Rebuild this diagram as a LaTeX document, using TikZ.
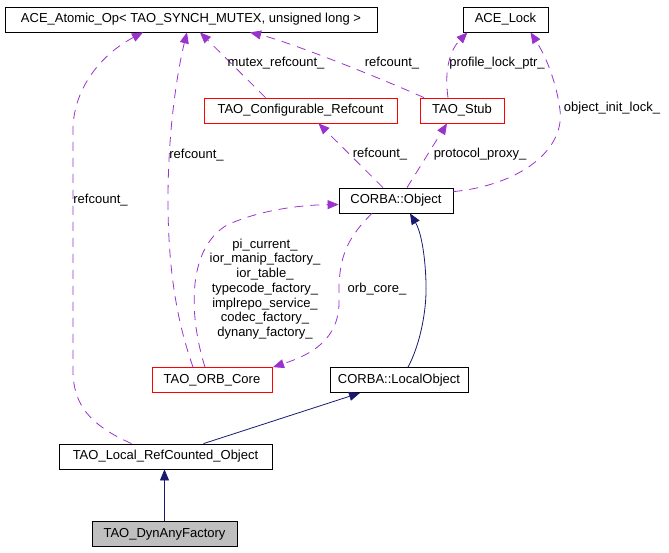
\documentclass[tikz,border=0pt]{standalone}
\usepackage{fontspec}
\setmainfont{Liberation Sans}
\usepackage{tikz}
\usetikzlibrary{arrows.meta}

\definecolor{usepurple}{HTML}{9A32CD}
\definecolor{basenavy}{HTML}{191970}
\definecolor{boxgray}{HTML}{BFBFBF}

\begin{document}
\begin{tikzpicture}[x=1pt, y=-1pt,
    font=\fontsize{13}{14.7}\selectfont,
    classbox/.style={draw=black, line width=0.8pt, inner xsep=5pt, inner ysep=0pt, minimum height=25pt},
    redbox/.style={classbox, draw=red},
    usage/.style={draw=usepurple, line width=0.8pt, dash pattern=on 9pt off 7pt, -{Triangle[length=11pt,width=9pt]}},
    inherit/.style={draw=basenavy, line width=0.8pt, -{Triangle[length=11pt,width=9pt]}},
    lbl/.style={inner sep=0pt, align=center}]

    \useasboundingbox (0,0) rectangle (669,552);

    % the classes
    \node[classbox, minimum width=372pt] (atomic) at (191,19.5) {ACE\_Atomic\_Op< TAO\_SYNCH\_MUTEX, unsigned long >};
    \node[classbox, minimum width=85pt] (lock) at (505.5,19.5) {ACE\_Lock};
    \node[redbox, minimum width=193pt] (confref) at (300.5,110.5) {TAO\_Configurable\_Refcount};
    \node[redbox, minimum width=84pt] (stub) at (462,110.5) {TAO\_Stub};
    \node[classbox, minimum width=114pt] (object) at (396,200.5) {CORBA::Object};
    \node[redbox, minimum width=120pt] (orbcore) at (212,380) {TAO\_ORB\_Core};
    \node[classbox, minimum width=138pt] (localobj) at (399,380) {CORBA::LocalObject};
    \node[classbox, minimum width=213pt] (localref) at (165.5,456.5) {TAO\_Local\_RefCounted\_Object};
    \node[classbox, minimum width=145pt, fill=boxgray] (dynany) at (164.5,534) {TAO\_DynAnyFactory};

    % usage edges
    \path[usage] ([xshift=-35pt]confref.north) -- ([xshift=9pt]atomic.south);
    \node[lbl] (lmutex) at (276,63) {mutex\_refcount\_};

    \path[usage] ([xshift=-38pt]stub.north) .. controls (380,78) and (290,42) .. ([xshift=59pt]atomic.south);
    \node[lbl] (lstubref) at (392,63) {refcount\_};

    \path[usage] ([xshift=-14pt]stub.north) .. controls (444,70) and (450,50) .. ([xshift=-38pt]lock.south);
    \node[lbl] (lprofile) at (497,63) {profile\_lock\_ptr\_};

    \path[usage] ([yshift=-4pt]object.north east) .. controls (520,185) and (565,150) .. (560,110)
        .. controls (556,80) and (545,55) .. ([xshift=25pt]lock.south);
    \node[lbl] (linitlock) at (612,108) {object\_init\_lock\_};

    \path[usage] ([xshift=-13pt]object.north) -- ([xshift=18pt]confref.south);
    \node[lbl] (lobjref) at (380,154) {refcount\_};

    \path[usage] ([xshift=11pt]object.north) -- ([xshift=-15pt]stub.south);
    \node[lbl] (lproxy) at (480,154) {protocol\_proxy\_};

    \path[usage] ([xshift=-7pt]orbcore.north) .. controls (190,320) and (185,250) .. (227,225)
        .. controls (260,210) and (300,205) .. ([yshift=-4pt]object.west);
    \node[lbl] (lorbmembers) at (265,289) {pi\_current\_\\ior\_manip\_factory\_\\ior\_table\_\\typecode\_factory\_\\implrepo\_service\_\\codec\_factory\_\\dynany\_factory\_};

    \path[usage] ([xshift=-24pt]object.south) .. controls (345,240) and (338,260) .. (339,300)
        .. controls (340,340) and (310,355) .. ([xshift=61pt]orbcore.north);
    \node[lbl] (lorbcore) at (377,289) {orb\_core\_};

    \path[usage] ([xshift=-19pt]orbcore.north) .. controls (180,330) and (168,280) .. (168,200)
        .. controls (168,120) and (180,60) .. ([xshift=-4pt]atomic.south);
    \node[lbl] (lorbref) at (196.5,155) {refcount\_};

    \path[usage] ([xshift=-34pt]localref.north) .. controls (90,425) and (73,405) .. (73,370)
        -- (73,130) .. controls (73,90) and (100,55) .. ([xshift=-48pt]atomic.south);
    \node[lbl] (llocalref) at (100.5,200) {refcount\_};

    % inheritance edges
    \path[inherit] ([xshift=9pt]localobj.north) .. controls (420,345) and (427,310) .. (426,283)
        .. controls (425,250) and (420,230) .. ([xshift=14pt]object.south);
    \path[inherit] ([xshift=38pt]localref.north) -- ([xshift=-39pt]localobj.south);
    \path[inherit] (dynany.north) -- (dynany.north |- localref.south);

\end{tikzpicture}
\end{document}
